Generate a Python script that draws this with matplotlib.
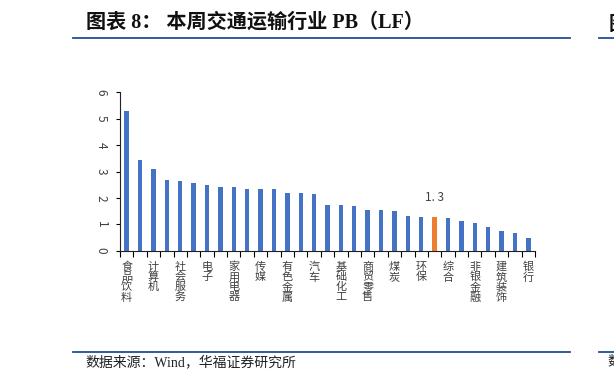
import matplotlib.pyplot as plt
import numpy as np

plt.rcParams['font.family'] = ['Liberation Serif', 'Noto Sans CJK SC', 'DejaVu Sans']

# 申万一级行业 PB(LF)，按从高到低排列
industries = ['食品饮料', '美容护理', '计算机', '国防军工', '社会服务', '医药生物',
              '电子', '机械设备', '家用电器', '电力设备', '传媒', '通信',
              '有色金属', '农林牧渔', '汽车', '轻工制造', '基础化工', '纺织服饰',
              '商贸零售', '石油石化', '煤炭', '公用事业', '环保', '交通运输',
              '综合', '钢铁', '非银金融', '建筑材料', '建筑装饰', '房地产', '银行']
pb_values = [5.30, 3.43, 3.08, 2.66, 2.63, 2.55, 2.50, 2.42, 2.42, 2.34, 2.34,
             2.34, 2.17, 2.17, 2.15, 1.73, 1.73, 1.68, 1.55, 1.53, 1.52, 1.31,
             1.29, 1.28, 1.22, 1.12, 1.06, 0.90, 0.76, 0.66, 0.48]
highlight = '交通运输'
highlight_label = '1. 3'

blue = '#4472C4'
orange = '#ED7D31'
navy = '#1F4E96'

W, H = 614, 382
fig = plt.figure(figsize=(W / 100, H / 100), dpi=100)

# 标题和上下分隔线
fig.text(86 / W, 1 - 23 / H, '图表 8： 本周交通运输行业 PB（LF）', fontsize=14.5,
         fontweight='bold', va='center', ha='left', color='#111111')
fig.text(609 / W, 1 - 25 / H, '图', fontsize=14, fontweight='bold',
         va='center', ha='left', color='#111111')
for y in (38, 351.5):
    fig.add_artist(plt.Line2D([73 / W, 570 / W], [1 - y / H, 1 - y / H],
                              color=navy, lw=1.3))
    fig.add_artist(plt.Line2D([599 / W, 1], [1 - y / H, 1 - y / H],
                              color=navy, lw=1.3))
fig.text(85 / W, 1 - 362 / H, '数据来源：Wind，华福证券研究所', fontsize=10,
         va='center', ha='left', color='#222222')
fig.text(607 / W, 1 - 362 / H, '数', fontsize=10, va='center', ha='left',
         color='#222222')

ax = fig.add_axes([120 / W, 1 - 250.7 / H, (535 - 120) / W, (250.7 - 92.3) / H])
x = np.arange(len(industries))
colors = [orange if n == highlight else blue for n in industries]
ax.bar(x, pb_values, width=0.33, color=colors)

hi = industries.index(highlight)
ax.annotate(highlight_label, (hi, pb_values[hi]), xytext=(0, 9),
            textcoords='offset points', ha='center', va='bottom',
            fontsize=8.5, color='#404040', family=['Noto Sans CJK SC'])

ax.set_xlim(-0.5, len(industries) - 0.5)
ax.set_ylim(0, 6)
ax.set_yticks(range(0, 7))
ax.set_yticklabels([str(v) for v in range(0, 7)], rotation=-90, va='center',
                   fontsize=8.5, color='#404040', family=['Noto Sans CJK SC'])
ax.tick_params(axis='y', length=3, width=0.8, pad=6)

ax.set_xticks(x[::2])
ax.set_xticklabels(['\n'.join(n) for n in industries[::2]], fontsize=8,
                   color='#404040', family=['Noto Sans CJK SC'], linespacing=1.0,
                   va='top')
ax.tick_params(axis='x', length=0, pad=8)
ax.set_xticks(np.arange(-0.5, len(industries)), minor=True)
ax.tick_params(axis='x', which='minor', length=4, width=0.8)

for s in ('top', 'right'):
    ax.spines[s].set_visible(False)
ax.spines['left'].set_color('#222222')
ax.spines['bottom'].set_color('#222222')

fig.savefig('out.png', dpi=100)
